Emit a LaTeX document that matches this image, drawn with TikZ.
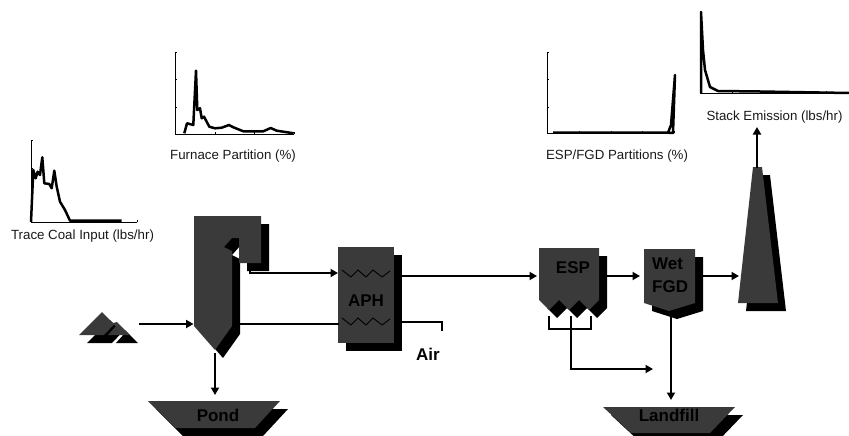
\documentclass[tikz,border=0pt]{standalone}
\usepackage{fontspec}
\setmainfont{Liberation Sans}
\usetikzlibrary{arrows.meta}
\definecolor{bodygray}{HTML}{3A3A3A}
\newcommand{\shadowshape}[1]{%
  \fill[black,shift={(8,8)}] #1;
  \fill[bodygray] #1;}
\tikzset{
  flow/.style={line width=2pt,-{Triangle[length=7.5pt,width=8pt]}},
  pipe/.style={line width=2pt},
  coil/.style={line width=0.9pt},
  axisline/.style={line width=0.8pt},
  curve/.style={line width=2.5pt,line join=round},
  unitlabel/.style={font=\fontsize{17}{17}\selectfont\bfseries,text=black,inner sep=0pt},
  plotlabel/.style={font=\fontsize{13.3}{13.3}\selectfont,text=black!90,inner sep=0pt}
}
\begin{document}
\begin{tikzpicture}[x=1pt,y=-1pt]
    \clip (0,0) rectangle (849,436);
    % plots
    \draw[axisline] (31,140) -- (31,222) -- (137,222);
    \foreach \ty in {140,168} \draw[axisline] (31,\ty) -- (33,\ty);
    \foreach \tx in {83,137} \draw[axisline] (\tx,222) -- (\tx,220);
    \draw[curve] (31,222) -- (33.3,170) -- (35.7,178.3) -- (37.7,171.7) -- (40,175) -- (42.3,157.3) -- (44.3,183.3) -- (49.3,184) -- (51.7,188.3) -- (54.3,170.7) -- (56.7,186.7) -- (60,201.7) -- (65,210) -- (70,220.7) -- (121.7,220.7);
    \node[plotlabel] (coallabel) at (82.5,236) {Trace Coal Input (lbs/hr)};
    \draw[axisline] (175,52) -- (175,134) -- (294,134);
    \foreach \ty in {52,79,107} \draw[axisline] (175,\ty) -- (177,\ty);
    \foreach \tx in {215,254,294} \draw[axisline] (\tx,134) -- (\tx,132);
    \draw[curve] (184.3,133.3) -- (187,123.3) -- (193.3,125) -- (196,70.7) -- (197.3,110) -- (200,108.3) -- (201.7,118.3) -- (204,116.7) -- (209.3,126.7) -- (215,128.3) -- (221.7,127.7) -- (229,125) -- (233.3,127.3) -- (243.3,131.3) -- (263.3,131.3) -- (270.7,128) -- (276.7,130.7) -- (293.7,133.3);
    \node[plotlabel] (furnacelabel) at (233,156.5) {Furnace Partition (\%)};
    \draw[axisline] (547,52) -- (547,133) -- (674,133);
    \foreach \ty in {52,79,107} \draw[axisline] (547,\ty) -- (549,\ty);
    \foreach \tx in {579,611,642,674} \draw[axisline] (\tx,133) -- (\tx,131);
    \draw[curve] (553,132.7) -- (668,132.7) -- (671,125) -- (675,75) -- (673,133) -- (668,132.7);
    \node[plotlabel] (esplabel) at (617,156.5) {ESP/FGD Partitions (\%)};
    \draw[axisline] (700,12) -- (700,93) -- (848,93);
    \foreach \tx in {732,763,795,826} \draw[axisline] (\tx,93) -- (\tx,91);
    \draw[curve] (701,93) -- (701,12) -- (703,50) -- (705,70) -- (710,87) -- (718,91) -- (760,91.5) -- (849,93);
    \node[plotlabel] (stacklabel) at (774.5,117) {Stack Emission (lbs/hr)};
    % units
    \shadowshape{(79,335) -- (102,312) -- (113,323) -- (117,322) -- (130,335) -- (108,335) -- (116,326) -- (114,324.5) -- (104,335) -- cycle}
    \shadowshape{(194,216) -- (261,216) -- (261,263) -- (239,263) -- (239,238) -- (232,238) -- (224,247) -- (232,251) -- (232,326) -- (215,350) -- (194,326) -- cycle}
    \shadowshape{(148,401) -- (280,401) -- (255,428) -- (175,428) -- cycle}
    \shadowshape{(338,247) -- (394,247) -- (394,343) -- (338,343) -- cycle}
    \shadowshape{(539,248) -- (599,248) -- (599,300) -- (589,310) -- (579,300) -- (569,310) -- (559,300) -- (549,310) -- (539,300) -- cycle}
    \shadowshape{(644,249) -- (695,249) -- (695,303) -- (669,311) -- (644,303) -- cycle}
    \shadowshape{(603,407) -- (735,407) -- (710,433) -- (631,433) -- cycle}
    \shadowshape{(753,167) -- (762,167) -- (778,303) -- (738,303) -- cycle}
    \draw[coil] (342,270) -- (351,277) -- (358,270) -- (366,277) -- (373,270) -- (382,277) -- (390,271);
    \draw[coil] (342,318) -- (351,325) -- (358,318) -- (366,325) -- (373,318) -- (382,325) -- (390,319);
    % labels
    \node[unitlabel] (pond) at (218,415) {Pond};
    \node[unitlabel] (aph) at (366,301) {APH};
    \node[unitlabel] (air) at (428,354) {Air};
    \node[unitlabel] (esp) at (573,268) {ESP};
    \node[unitlabel,anchor=west] (wet) at (652,264) {Wet};
    \node[unitlabel,anchor=west] (fgd) at (652,287) {FGD};
    \node[unitlabel] (landfill) at (669,415) {Landfill};
    % connectors
    \coordinate (coalout) at (139,324);
    \coordinate (furnacein) at (193.5,324);
    \coordinate (furnaceside) at (240,324);
    \coordinate (furnacebottom) at (215,353);
    \coordinate (pondin) at (215,395);
    \coordinate (flueout) at (250,270);
    \coordinate (fluecorner) at (250,273);
    \coordinate (aphin) at (338,273);
    \coordinate (aphleft) at (339,324);
    \coordinate (aphout) at (402,276);
    \coordinate (espin) at (537,276);
    \coordinate (airleft) at (402,322);
    \coordinate (aircorner) at (442,322);
    \coordinate (airend) at (442,331);
    \coordinate (espout) at (607,276);
    \coordinate (fgdin) at (640,276);
    \coordinate (fgdout) at (703,276);
    \coordinate (stackin) at (739,276);
    \coordinate (stacktop) at (757,168);
    \coordinate (stackplot) at (757,127);
    \coordinate (fgdbottom) at (671,317);
    \coordinate (landfillin) at (671,400);
    \coordinate (hopperleft) at (549,316);
    \coordinate (hopperleftlow) at (549,329);
    \coordinate (hopperright) at (591,316);
    \coordinate (hopperrightlow) at (591,329);
    \coordinate (hoppermid) at (571,316);
    \coordinate (hoppercorner) at (571,369);
    \coordinate (ashend) at (653,369);
    \draw[flow] (coalout) -- (furnacein);
    \draw[pipe] (furnaceside) -- (aphleft);
    \draw[flow] (furnacebottom) -- (pondin);
    \draw[flow] (flueout) -- (fluecorner) -- (aphin);
    \draw[flow] (aphout) -- (espin);
    \draw[pipe] (airleft) -- (aircorner) -- (airend);
    \draw[flow] (espout) -- (fgdin);
    \draw[flow] (fgdout) -- (stackin);
    \draw[flow] (stacktop) -- (stackplot);
    \draw[flow] (fgdbottom) -- (landfillin);
    \draw[pipe] (hopperleft) -- (hopperleftlow) -- (hopperrightlow) -- (hopperright);
    \draw[flow] (hoppermid) -- (hoppercorner) -- (ashend);
\end{tikzpicture}
\end{document}
